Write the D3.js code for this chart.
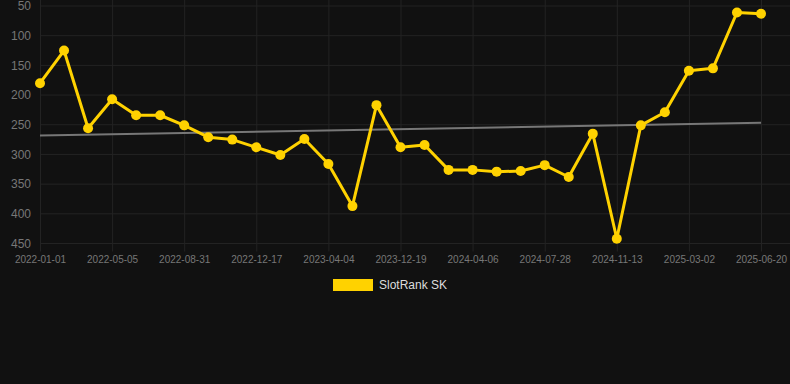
<!DOCTYPE html>
<html>
<head>
<meta charset="utf-8">
<script src="https://cdn.jsdelivr.net/npm/d3@7"></script>
<style>
  html, body { margin: 0; padding: 0; background: #111111; }
  #chart svg { display: block; }
</style>
</head>
<body>
<div id="chart"></div>
<script>
// rank per snapshot (lower = better), one every 3 snapshots gets a date label
const rankValues = [
    180, 125, 256, 207, 234, 234, 251, 271, 275, 288,
    301, 274, 316, 387, 217, 288, 284, 326, 326, 329,
    328, 318, 338, 265, 442, 251, 229, 159, 155, 61,
    63
]
const tickLabels = [
    '2022-01-01', '2022-05-05', '2022-08-31', '2022-12-17', '2023-04-04',
    '2023-12-19', '2024-04-06', '2024-07-28', '2024-11-13', '2025-03-02',
    '2025-06-20'
]
const yTicks = [50, 100, 150, 200, 250, 300, 350, 400, 450]
const seriesName = 'SlotRank SK'

const width = 790
const height = 384
const plotLeft = 40, plotRight = 761, plotTop = 6, plotBottom = 243.5

const svg = d3.select('#chart')
    .append('svg')
    .attr('width', width)
    .attr('height', height)
    .style('font-family', '"Liberation Sans", Arial, sans-serif')

svg.append('rect')
    .attr('width', width)
    .attr('height', height)
    .attr('fill', '#111111')

const idx = d3.range(rankValues.length)

const x = d3.scalePoint()
    .domain(idx)
    .range([plotLeft, plotRight])

// reversed: 50 at top
const y = d3.scaleLinear()
    .domain([50, 450])
    .range([plotTop, plotBottom])

// horizontal grid
svg.append('g')
    .selectAll('line')
    .data(yTicks)
    .enter()
    .append('line')
    .attr('x1', plotLeft)
    .attr('x2', width)
    .attr('y1', d => y(d))
    .attr('y2', d => y(d))
    .attr('stroke', '#232323')
    .attr('stroke-width', 1)

// vertical grid + x labels
const xTickIdx = idx.filter(i => i % 3 === 0)

const xAxis = svg.append('g')
    .attr('transform', `translate(0,${plotBottom})`)
    .call(d3.axisBottom(x)
        .tickValues(xTickIdx)
        .tickSize(8)
        .tickPadding(4)
        .tickFormat(i => tickLabels[i / 3]))
xAxis.select('.domain').remove()
xAxis.selectAll('.tick line')
    .attr('y1', -plotBottom)
    .attr('stroke', '#232323')
xAxis.selectAll('text')
    .attr('fill', '#777')
    .style('font-size', '10px')

// y labels
const yAxis = svg.append('g')
    .attr('transform', `translate(${plotLeft},0)`)
    .call(d3.axisLeft(y)
        .tickValues(yTicks)
        .tickSize(0)
        .tickPadding(9))
yAxis.select('.domain').remove()
yAxis.selectAll('text')
    .attr('fill', '#777')
    .style('font-size', '12px')

// trend line (least squares fit)
const meanX = d3.mean(idx)
const meanY = d3.mean(rankValues)
const slope = d3.sum(idx, i => (i - meanX) * (rankValues[i] - meanY)) /
    d3.sum(idx, i => (i - meanX) * (i - meanX))
const intercept = meanY - slope * meanX
const trend = [0, idx.length - 1].map(i => ({ i: i, v: intercept + slope * i }))

svg.append('path')
    .datum(trend)
    .attr('fill', 'none')
    .attr('stroke', '#777')
    .attr('stroke-width', 2)
    .attr('d', d3.line().x(d => x(d.i)).y(d => y(d.v)))

// main series
const color = '#ffd200'

svg.append('path')
    .datum(rankValues)
    .attr('fill', 'none')
    .attr('stroke', color)
    .attr('stroke-width', 3)
    .attr('stroke-linejoin', 'round')
    .attr('d', d3.line().x((d, i) => x(i)).y(d => y(d)))

svg.append('g')
    .selectAll('circle')
    .data(rankValues)
    .enter()
    .append('circle')
    .attr('cx', (d, i) => x(i))
    .attr('cy', d => y(d))
    .attr('r', 5)
    .attr('fill', color)

// legend
const legend = svg.append('g')
    .attr('transform', 'translate(333,279)')
legend.append('rect')
    .attr('width', 40)
    .attr('height', 12)
    .attr('fill', color)
legend.append('text')
    .attr('x', 46)
    .attr('y', 6)
    .attr('dy', '0.35em')
    .attr('fill', '#dddddd')
    .style('font-size', '12px')
    .text(seriesName)
</script>
</body>
</html>
